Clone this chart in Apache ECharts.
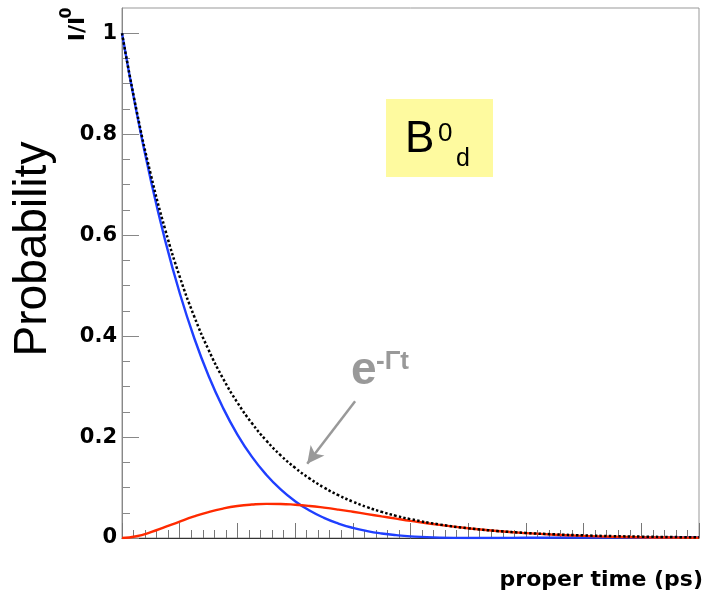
<!DOCTYPE html>
<html>
<head>
<meta charset="utf-8">
<script src="https://cdn.jsdelivr.net/npm/echarts@6.0.0/dist/echarts.min.js"></script>
<style>
  html, body { margin: 0; padding: 0; background: #fff; }
  #chart { width: 706px; height: 597px; }
</style>
</head>
<body>
<div id="chart"></div>
<script>
// proper time in ps
const times = [0, 0.25, 0.5, 0.75, 1, 1.25, 1.5, 1.75, 2, 2.25, 2.5, 2.75, 3, 3.25, 3.5, 3.75, 4, 4.25, 4.5, 4.75, 5,
  5.5, 6, 6.5, 7, 7.5, 8, 8.5, 9, 9.5, 10];
// pure exponential decay (dotted)
const decay = [1, 0.8483, 0.7197, 0.6105, 0.5179, 0.4394, 0.3728, 0.3162, 0.2683, 0.2276, 0.1931, 0.1638, 0.1390, 0.1179, 0.1000, 0.0848, 0.0720, 0.0611, 0.0518, 0.0439, 0.0373,
  0.0268, 0.0193, 0.0139, 0.0100, 0.0072, 0.0052, 0.0037, 0.0027, 0.0019, 0.0014];
// unmixed probability (blue)
const unmixed = [1, 0.8449, 0.7082, 0.5887, 0.4854, 0.3967, 0.3214, 0.2580, 0.2050, 0.1612, 0.1254, 0.0963, 0.0729, 0.0544, 0.0399, 0.0287, 0.0201, 0.0137, 0.0090, 0.0056, 0.0033,
  0.0008, 0.0000, 0.0001, 0.0004, 0.0008, 0.0010, 0.0011, 0.0011, 0.0011, 0.0009];
// mixed probability (red)
const mixed = [0, 0.0034, 0.0115, 0.0218, 0.0326, 0.0427, 0.0514, 0.0583, 0.0633, 0.0663, 0.0677, 0.0675, 0.0660, 0.0635, 0.0601, 0.0562, 0.0519, 0.0474, 0.0428, 0.0383, 0.0339,
  0.0260, 0.0193, 0.0138, 0.0096, 0.0064, 0.0042, 0.0026, 0.0015, 0.0009, 0.0005];

const yMajorTicks = [0, 0.2, 0.4, 0.6, 0.8, 1];
const yMinorTicks = [0.05, 0.1, 0.15, 0.25, 0.3, 0.35, 0.45, 0.5, 0.55, 0.65, 0.7, 0.75, 0.85, 0.9, 0.95];

// arrow pointing from the e^-Γt label to the decay curve: [t, y] start and tip
const arrowFrom = [4.04, 0.271];
const arrowTo = [3.21, 0.147];

const zip = (xs, ys) => xs.map((x, i) => [x, ys[i]]);

const BOLD = 'DejaVu Sans';
const SANS = 'Liberation Sans';

const chart = echarts.init(document.getElementById('chart'), null, { renderer: 'canvas' });

chart.setOption({
  animation: false,
  backgroundColor: '#fff',
  grid: {
    left: 122, right: 7, top: 8, bottom: 59,
    show: true, borderColor: '#999', borderWidth: 1, backgroundColor: 'transparent'
  },
  xAxis: {
    type: 'value', min: 0, max: 10, interval: 1,
    axisLine: { show: true, lineStyle: { color: '#333', width: 1 } },
    axisTick: { show: true, inside: true, length: 15, lineStyle: { color: '#777', width: 1 } },
    minorTick: { show: true, splitNumber: 5, length: 8, lineStyle: { color: '#777', width: 1 } },
    axisLabel: { show: false },
    splitLine: { show: false },
    minorSplitLine: { show: false }
  },
  yAxis: [
    {
      type: 'value', min: 0, max: 1.05, position: 'left',
      axisLine: { show: true, lineStyle: { color: '#888', width: 1 } },
      axisTick: { show: true, inside: true, length: 17, customValues: yMajorTicks, lineStyle: { color: '#888', width: 1 } },
      axisLabel: {
        show: true, customValues: yMajorTicks, margin: 5,
        fontFamily: BOLD, fontWeight: 'bold', fontSize: 21, color: '#000',
        formatter: v => String(v)
      },
      splitLine: { show: false }
    },
    {
      type: 'value', min: 0, max: 1.05, position: 'left', offset: 0,
      axisLine: { show: false },
      axisTick: { show: true, inside: true, length: 8, customValues: yMinorTicks, lineStyle: { color: '#888', width: 1 } },
      axisLabel: { show: false },
      splitLine: { show: false }
    }
  ],
  series: [
    {
      name: 'unmixed', type: 'line', data: zip(times, unmixed), smooth: true,
      showSymbol: false, lineStyle: { color: '#1f3fff', width: 2.4 }, z: 2
    },
    {
      name: 'mixed', type: 'line', data: zip(times, mixed), smooth: true,
      showSymbol: false, lineStyle: { color: '#ff2a00', width: 2.4 }, z: 3
    },
    {
      name: 'decay', type: 'line', data: zip(times, decay), smooth: true,
      showSymbol: false, lineStyle: { color: '#000', width: 2.5, type: [2.5, 2.2] }, z: 4,
      markLine: {
        silent: true, animation: false,
        symbol: ['none', 'arrow'], symbolSize: [13, 17],
        label: { show: false },
        lineStyle: { color: '#999', width: 2.5, type: 'solid' },
        data: [[{ coord: arrowFrom }, { coord: arrowTo }]]
      }
    }
  ],
  graphic: [
    // y axis titles
    {
      type: 'text', x: 33, y: 249, rotation: Math.PI / 2,
      style: { text: 'Probability', fontFamily: SANS, fontSize: 46, fill: '#000', align: 'center', verticalAlign: 'middle' }
    },
    {
      type: 'text', x: 78, y: 29, rotation: Math.PI / 2,
      style: { text: 'I/I', fontFamily: BOLD, fontWeight: 'bold', fontSize: 22, fill: '#000', align: 'center', verticalAlign: 'middle' }
    },
    {
      type: 'text', x: 67, y: 13, rotation: Math.PI / 2,
      style: { text: '0', fontFamily: BOLD, fontWeight: 'bold', fontSize: 16, fill: '#000', align: 'center', verticalAlign: 'middle' }
    },
    // x axis title
    {
      type: 'text', x: 703, y: 580,
      style: { text: 'proper time (ps)', fontFamily: BOLD, fontWeight: 'bold', fontSize: 22, fill: '#000', align: 'right', verticalAlign: 'middle' }
    },
    // particle label box
    {
      type: 'rect', shape: { x: 386, y: 99, width: 107, height: 78 },
      style: { fill: '#fefa9f' }, z: 10
    },
    {
      type: 'text', x: 405, y: 140, z: 11,
      style: { text: 'B', fontFamily: SANS, fontSize: 44, fill: '#000', align: 'left', verticalAlign: 'middle' }
    },
    {
      type: 'text', x: 438, y: 134, z: 11,
      style: { text: '0', fontFamily: SANS, fontSize: 26, fill: '#000', align: 'left', verticalAlign: 'middle' }
    },
    {
      type: 'text', x: 456, y: 159, z: 11,
      style: { text: 'd', fontFamily: SANS, fontSize: 25, fill: '#000', align: 'left', verticalAlign: 'middle' }
    },
    // e^{-Γt} annotation
    {
      type: 'text', x: 351, y: 371, z: 11,
      style: { text: 'e', fontFamily: SANS, fontWeight: 'bold', fontSize: 46, fill: '#999', align: 'left', verticalAlign: 'middle' }
    },
    {
      type: 'text', x: 376, y: 362, z: 11,
      style: { text: '-Γt', fontFamily: SANS, fontWeight: 'bold', fontSize: 26, fill: '#999', align: 'left', verticalAlign: 'middle' }
    }
  ]
});
</script>
</body>
</html>
